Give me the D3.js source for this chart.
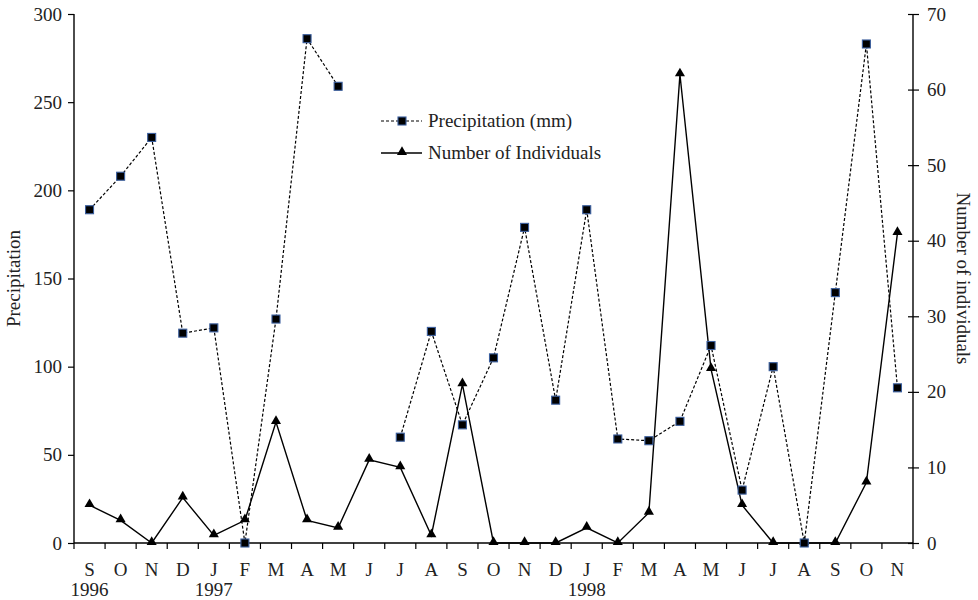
<!DOCTYPE html>
<html>
<head>
<meta charset="utf-8">
<script src="https://cdn.jsdelivr.net/npm/d3@7"></script>
<style>
  body { margin: 0; background: #fff; }
  svg text { font-family: "Liberation Serif", "DejaVu Serif", serif; fill: #222; }
</style>
</head>
<body>
<svg width="978" height="600"></svg>
<script>
const width = 978;
const height = 600;

// months Sep 1996 .. Nov 1998
const months = ['S','O','N','D','J','F','M','A','M','J','J','A','S','O','N','D','J','F','M','A','M','J','J','A','S','O','N'];
const yearLabels = [[0, '1996'], [4, '1997'], [16, '1998']];

const precipitation = [189, 208, 230, 119, 122, 0, 127, 286, 259, null, 60, 120, 67, 105, 179, 81, 189, 59, 58, 69, 112, 30, 100, 0, 142, 283, 88];
const individuals = [5, 3, 0, 6, 1, 3, 16, 3, 2, 11, 10, 1, 21, 0, 0, 0, 2, 0, 4, 62, 23, 5, 0, 0, 0, 8, 41];

const leftTicks = [0, 50, 100, 150, 200, 250, 300];
const rightTicks = [0, 10, 20, 30, 40, 50, 60, 70];

const margin = { left: 74, right: 65, top: 14, bottom: 57 };
const x0 = margin.left, x1 = width - margin.right;
const y0 = height - margin.bottom, y1 = margin.top;
const fs = '19px';

const idx = d3.range(months.length);

const x = d3.scaleBand().domain(idx).range([x0, x1]);
const cx = i => x(i) + x.bandwidth() / 2;
const yP = d3.scaleLinear().domain([0, 300]).range([y0, y1]);
const yN = d3.scaleLinear().domain([0, 70]).range([y0, y1]);

const svg = d3.select('svg');

// left axis
const gl = svg.append('g').attr('transform', `translate(${x0},0)`)
  .call(d3.axisLeft(yP).tickValues(leftTicks).tickSize(6).tickPadding(6));
gl.select('.domain').attr('d', `M0,${y0}V${y1}`).attr('stroke', '#000').attr('stroke-width', 1.4);
gl.selectAll('.tick line').attr('stroke', '#000').attr('stroke-width', 1.2);
gl.selectAll('.tick text').style('font-size', fs).attr('font-family', null);

// right axis
const gr = svg.append('g').attr('transform', `translate(${x1},0)`)
  .call(d3.axisRight(yN).tickValues(rightTicks).tickSize(6).tickPadding(8));
gr.select('.domain').attr('d', `M0,${y0}V${y1}`).attr('stroke', '#000').attr('stroke-width', 1.4);
gr.selectAll('.tick line').attr('x1', -5).attr('stroke', '#000').attr('stroke-width', 1.2);
gr.selectAll('.tick text').style('font-size', fs).attr('font-family', null);

// bottom axis
const gb = svg.append('g');
gb.append('line').attr('x1', x0).attr('x2', x1).attr('y1', y0).attr('y2', y0)
  .attr('stroke', '#000').attr('stroke-width', 1.4);
gb.selectAll('line.tk').data(idx.concat([months.length])).join('line').attr('class', 'tk')
  .attr('x1', i => i < months.length ? x(i) : x1)
  .attr('x2', i => i < months.length ? x(i) : x1)
  .attr('y1', y0).attr('y2', y0 + 6)
  .attr('stroke', '#000').attr('stroke-width', 1.2);
gb.selectAll('text.m').data(idx).join('text').attr('class', 'm')
  .attr('x', cx).attr('y', y0 + 33)
  .attr('text-anchor', 'middle').style('font-size', fs)
  .text(i => months[i]);
gb.selectAll('text.yr').data(yearLabels).join('text').attr('class', 'yr')
  .attr('x', d => cx(d[0])).attr('y', y0 + 53)
  .attr('text-anchor', 'middle').style('font-size', fs)
  .text(d => d[1]);

// axis titles
svg.append('text')
  .attr('transform', `translate(20,${(y0 + y1) / 2}) rotate(-90)`)
  .attr('text-anchor', 'middle').style('font-size', fs)
  .text('Precipitation');
svg.append('text')
  .attr('transform', `translate(957,${(y0 + y1) / 2}) rotate(90)`)
  .attr('text-anchor', 'middle').style('font-size', fs)
  .text('Number of individuals');

// individuals line
svg.append('path')
  .datum(idx)
  .attr('fill', 'none').attr('stroke', '#000').attr('stroke-width', 1.4)
  .attr('d', d3.line().x(cx).y(i => yN(individuals[i])));

const tri = d3.symbol().type(d3.symbolTriangle).size(44);
svg.append('g').selectAll('path').data(idx).join('path')
  .attr('transform', i => `translate(${cx(i)},${yN(individuals[i]) - 1})`)
  .attr('d', tri).attr('fill', '#000');

// precipitation line
svg.append('path')
  .datum(idx)
  .attr('fill', 'none').attr('stroke', '#000').attr('stroke-width', 1.2)
  .attr('stroke-dasharray', '3,2')
  .attr('d', d3.line().defined(i => precipitation[i] !== null).x(cx).y(i => yP(precipitation[i])));

svg.append('g').selectAll('rect').data(idx.filter(i => precipitation[i] !== null)).join('rect')
  .attr('x', i => cx(i) - 4).attr('y', i => yP(precipitation[i]) - 4)
  .attr('width', 8).attr('height', 8)
  .attr('fill', '#000').attr('stroke', '#3b5f9e').attr('stroke-width', 1.1);

// legend
const lg = svg.append('g').attr('transform', 'translate(381,121)');
lg.append('line').attr('x1', 0).attr('x2', 41).attr('y1', 0).attr('y2', 0)
  .attr('stroke', '#000').attr('stroke-width', 1.2).attr('stroke-dasharray', '3,2');
lg.append('rect').attr('x', 17).attr('y', -4).attr('width', 8).attr('height', 8)
  .attr('fill', '#000').attr('stroke', '#3b5f9e').attr('stroke-width', 1.1);
lg.append('text').attr('x', 47).attr('y', 6).style('font-size', fs).text('Precipitation (mm)');
lg.append('line').attr('x1', 0).attr('x2', 41).attr('y1', 32).attr('y2', 32)
  .attr('stroke', '#000').attr('stroke-width', 1.4);
lg.append('path').attr('transform', 'translate(21,31)').attr('d', tri).attr('fill', '#000');
lg.append('text').attr('x', 47).attr('y', 38).style('font-size', fs).text('Number of Individuals');
</script>
</body>
</html>
